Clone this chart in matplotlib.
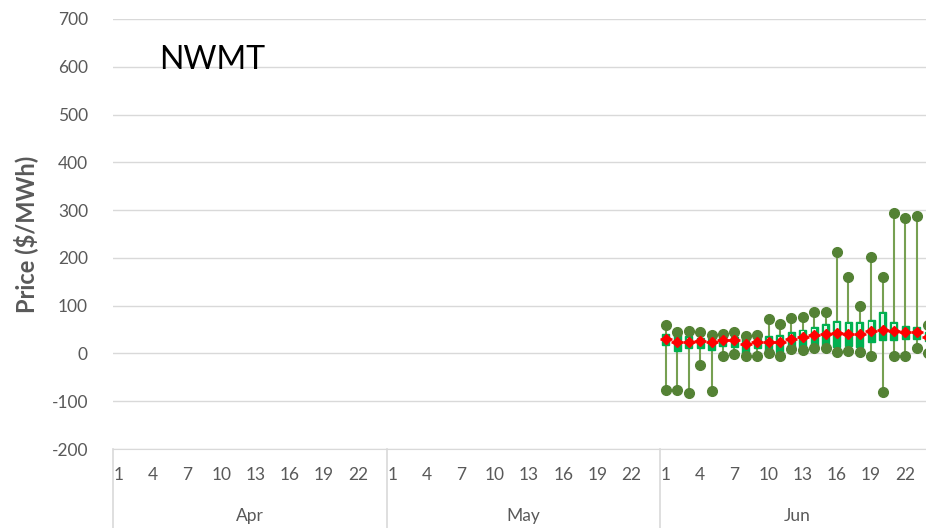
import numpy as np
import matplotlib
matplotlib.use("Agg")
import matplotlib.pyplot as plt
import matplotlib.transforms as mtransforms

plt.rcParams['font.family'] = ['Lato', 'DejaVu Sans']
plt.rcParams['axes.unicode_minus'] = False

months = ["Apr", "May", "Jun"]
days_per_month = [24, 24, 30]
label_days = [1, 4, 7, 10, 13, 16, 19, 22, 25]

# June daily price stats (days 1..24)
jun_days = list(range(1, 25))
p_max = [60, 45, 47, 45, 38, 41, 44, 37, 39, 72, 61, 75, 77, 86, 86, 213,
         159, 100, 201, 161, 293, 284, 287, 59]
p_min = [-76, -76, -83, -24, -79, -6, -1, -6, -6, 1, -6, 10, 8, 11, 11, 2,
         5, 2, -6, -81, -6, -6, 11, 0]
q3 = [41, 38, 36, 33, 31, 34, 34, 31, 31, 36, 38, 44, 50, 56, 62, 68,
      66, 66, 69, 86, 66, 58, 55, 45]
q1 = [17, 5, 11, 11, 7, 16, 14, 0, 11, 5, 2, 14, 14, 16, 18, 14,
      16, 14, 23, 29, 29, 30, 30, 27]
p_mean = [30, 25, 25, 26, 25, 28, 28, 20, 23, 25, 25, 31, 34, 38, 40, 42,
          41, 41, 47, 50, 48, 44, 44, 35]

grey = "#595959"
grid_c = "#D9D9D9"
dark_green = "#548235"
box_green = "#00B050"

fig = plt.figure(figsize=(9.26, 5.28), dpi=100)
ax = fig.add_axes([113 / 926, (528 - 449) / 528, 1 - 113 / 926, 430 / 528])

offset = days_per_month[0] + days_per_month[1]
x = np.array([offset + d - 0.5 for d in jun_days])

ax.vlines(x, p_min, p_max, color="#76A052", lw=1.5, zorder=2)
for xi, lo, hi, m in zip(x, q1, q3, p_mean):
    ax.add_patch(plt.Rectangle((xi - 0.3, lo), 0.6, hi - lo, facecolor=box_green,
                               edgecolor=box_green, lw=1, zorder=3))
    ax.add_patch(plt.Rectangle((xi - 0.15, m), 0.3, max(hi - m - 4, 0), facecolor="#DDF5E6",
                               edgecolor="none", zorder=3.5))
ax.plot(x, p_max, "o", color=dark_green, ms=7, zorder=4)
ax.plot(x, p_min, "o", color=dark_green, ms=7, zorder=4)
ax.plot(x, p_mean, "_", color="red", ms=8, mew=1.8, zorder=5)
ax.plot(x, p_mean, "D", color="red", ms=5.5, zorder=5)

ax.set_ylim(-200, 700)
ax.set_yticks(range(-200, 701, 100))
ax.set_xlim(0, 813 / 11.4)
ax.set_xticks([])
ax.yaxis.grid(True, color=grid_c, lw=1)
ax.set_axisbelow(True)
for s in ["left", "right", "top"]:
    ax.spines[s].set_visible(False)
ax.spines["bottom"].set_color(grid_c)
ax.tick_params(axis="y", length=0, labelsize=12.5, labelcolor=grey, pad=18)
ax.set_ylabel("Price ($/MWh)", fontsize=17, fontweight="bold", color=grey, labelpad=10)

# multi-level category axis
trans = mtransforms.blended_transform_factory(ax.transData, ax.transAxes)
start = 0
for mon, n in zip(months, days_per_month):
    ax.plot([start, start], [0, -0.2], color=grid_c, lw=1.2, transform=trans, clip_on=False)
    for d in label_days:
        if d <= n:
            ax.text(start + d - 0.5, -0.06, str(d), transform=trans, ha="center", va="center",
                    fontsize=12.5, color=grey, clip_on=False)
    ax.text(start + 12, -0.155, mon, transform=trans, ha="center", va="center",
            fontsize=12.5, color=grey, clip_on=False)
    start += n

fig.text(159 / 926, 1 - 60 / 528, "NWMT", fontsize=23, color="black", ha="left", va="center")

fig.savefig("out.png", dpi=100)
